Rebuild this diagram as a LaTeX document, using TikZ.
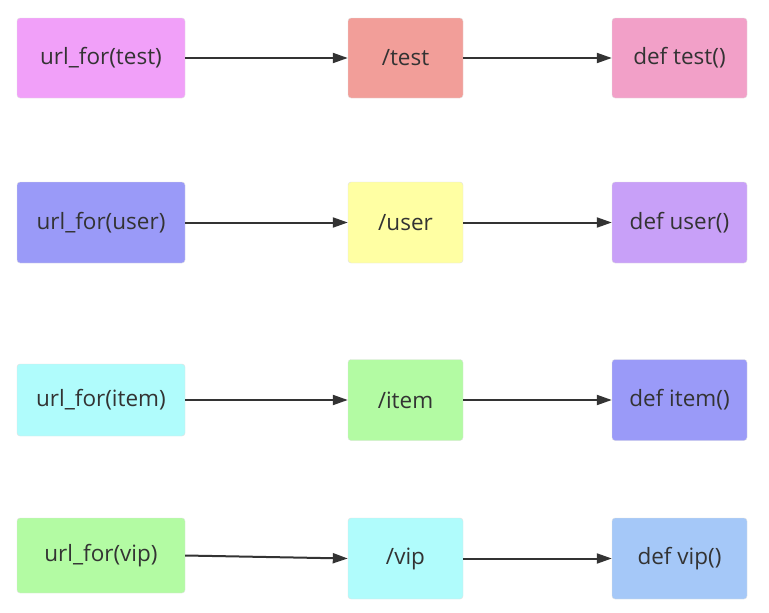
\documentclass[tikz,border=0pt]{standalone}
\usepackage{fontspec}
\setmainfont{Open Sans}
\usetikzlibrary{arrows.meta}
\definecolor{violetA}{HTML}{F1A0F9}
\definecolor{salmonA}{HTML}{F29E99}
\definecolor{pinkA}{HTML}{F2A0C8}
\definecolor{blueA}{HTML}{9A9AF8}
\definecolor{yellowA}{HTML}{FFFFA3}
\definecolor{purpleA}{HTML}{C8A0F8}
\definecolor{cyanA}{HTML}{B0FCFC}
\definecolor{greenA}{HTML}{B3FBA3}
\definecolor{skyA}{HTML}{A5C8F8}
\definecolor{inkA}{HTML}{333333}
\tikzset{
  box/.style={rounded corners=3pt, draw=white!88!black, line width=0.4pt, text=inkA, inner sep=0pt},
  urlbox/.style={box, minimum width=168pt},
  routebox/.style={box, minimum width=115pt, minimum height=81pt},
  defbox/.style={box, minimum width=135pt, minimum height=81pt},
  link/.style={draw=inkA, line width=2pt, -{Triangle[length=15pt,width=10pt]}}
}
\begin{document}
\begin{tikzpicture}[x=1pt, y=-1pt, font=\fontsize{22.5}{26}\selectfont, line join=round]
\useasboundingbox (0,0) rectangle (769,613);
% left column
\node[urlbox, minimum height=80pt, fill=violetA] (ftest) at (101,58) {url\_for(test)};
\node[urlbox, minimum height=81pt, fill=blueA] (fuser) at (101,222.5) {url\_for(user)};
\node[urlbox, minimum height=72pt, fill=cyanA] (fitem) at (101,400) {url\_for(item)};
\node[urlbox, minimum height=75pt, fill=greenA] (fvip) at (101,555.5) {url\_for(vip)};
% middle column
\node[routebox, minimum height=80pt, fill=salmonA] (rtest) at (405.5,58) {/test};
\node[routebox, fill=yellowA] (ruser) at (405.5,222.5) {/user};
\node[routebox, fill=greenA] (ritem) at (405.5,400) {/item};
\node[routebox, fill=cyanA] (rvip) at (405.5,558.5) {/vip};
% right column
\node[defbox, minimum height=80pt, fill=pinkA] (dtest) at (679.5,58) {def test()};
\node[defbox, fill=purpleA] (duser) at (679.5,222.5) {def user()};
\node[defbox, fill=blueA] (ditem) at (679.5,400) {def item()};
\node[defbox, fill=skyA] (dvip) at (679.5,558.5) {def vip()};
% connectors
\foreach \n in {test,user,item,vip}
  \draw[link] (f\n.east) -- (r\n.west);
\foreach \n in {test,user,item,vip}
  \draw[link] (r\n.east) -- (d\n.west);
\end{tikzpicture}
\end{document}
